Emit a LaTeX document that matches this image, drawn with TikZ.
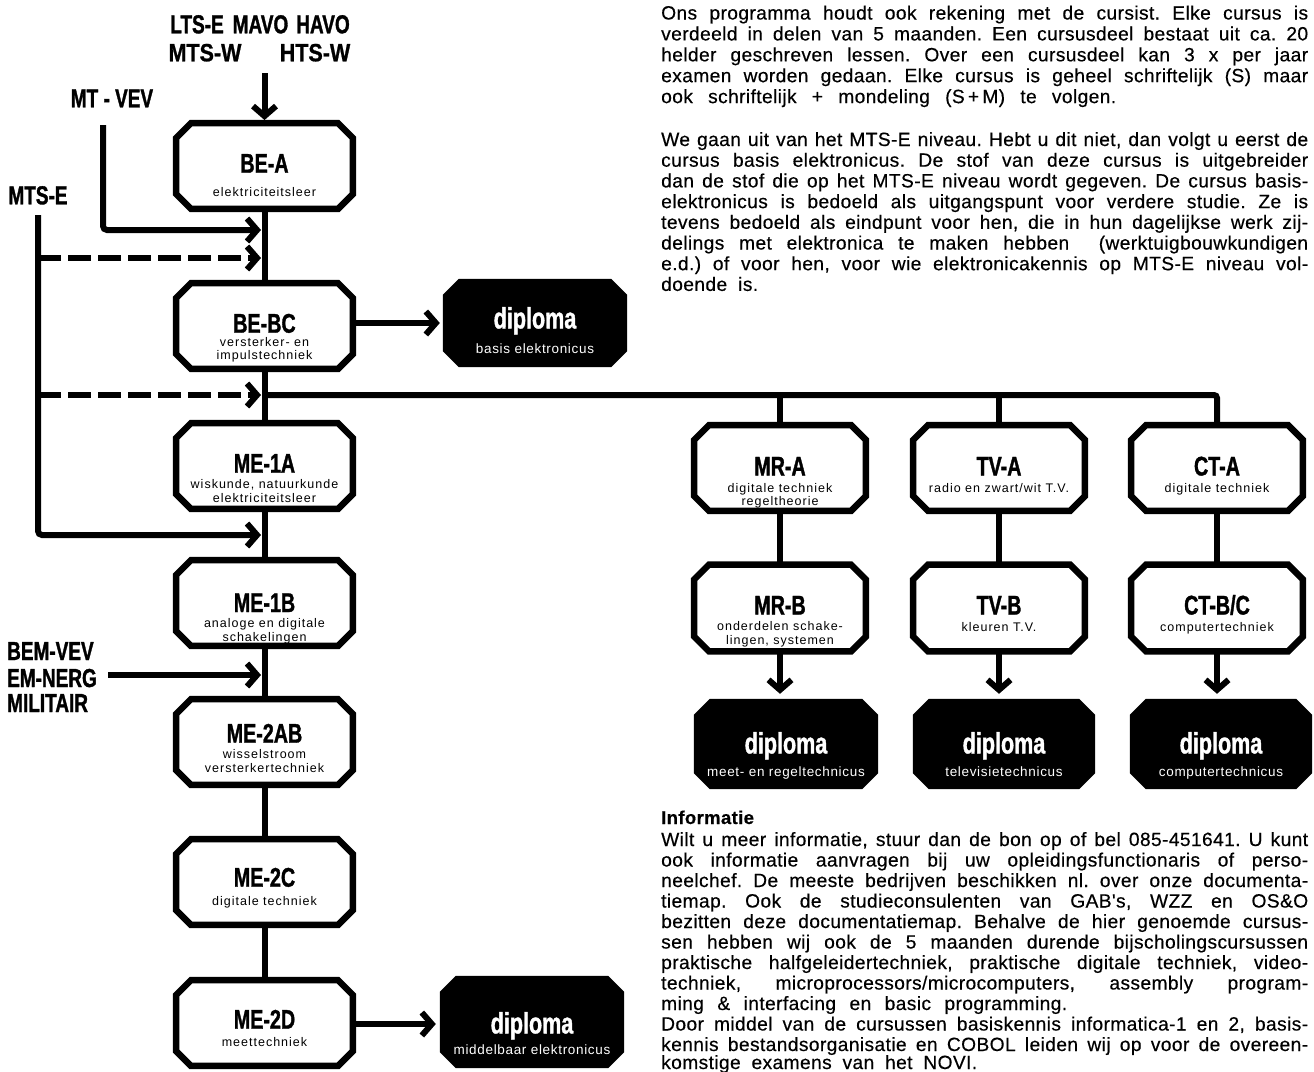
\documentclass[tikz,border=0pt]{standalone}
\usepackage{fontspec}
\setmainfont{Liberation Sans}
\newfontfamily\condfont{Liberation Sans}[FakeStretch=0.73,FakeBold=1.2]
\newfontfamily\condwide{Liberation Sans}[FakeStretch=0.86,FakeBold=0.8]
\newfontfamily\bodyfont{Liberation Sans}[LetterSpace=2,FakeBold=0.4]
\newfontfamily\subfont{Liberation Sans}[LetterSpace=8]
\newfontfamily\dsubfont{Liberation Sans}[LetterSpace=5]
\usetikzlibrary{arrows.meta}
\newcommand\jline[3]{\node[bodyt] (#1) at (661,#2) {\makebox[647pt][s]{#3}};}
\newcommand\lline[4]{\node[bodyt] (#1) at (661,#2) {\makebox[#3pt][s]{#4}};}
% chamfered outline drawn on the border of a named node
\newcommand\chdraw[3]{\path[#3] ([xshift=#2]#1.north west) -- ([xshift=-#2]#1.north east)
  -- ([yshift=-#2]#1.north east) -- ([yshift=#2]#1.south east) -- ([xshift=-#2]#1.south east)
  -- ([xshift=#2]#1.south west) -- ([yshift=#2]#1.south west) -- ([yshift=-#2]#1.north west) -- cycle;}
\frenchspacing
\begin{document}
\begin{tikzpicture}[x=1pt,y=-1pt,
  conn/.style={line width=6pt},
  arr/.style={conn,-{Straight Barb[length=10pt,width=23pt,sharp]}},
  dashconn/.style={arr,dash pattern=on 23pt off 7pt},
  boxn/.style={rectangle,draw=none,minimum width=176.5pt,minimum height=85.5pt,inner sep=0pt},
  rboxn/.style={boxn,minimum width=171.5pt},
  dipn/.style={rectangle,draw=none,minimum width=184pt,minimum height=90pt,inner sep=0pt},
  boxline/.style={draw=black,line width=6.5pt,fill=white,line join=miter},
  dipfill/.style={fill=black},
  ttl/.style={font=\condfont\bfseries\fontsize{27}{27}\selectfont,anchor=base,inner sep=0pt},
  sub/.style={font=\subfont\fontsize{12.5}{14}\selectfont,anchor=base,inner sep=0pt},
  dword/.style={font=\condfont\bfseries\fontsize{29.5}{30}\selectfont,text=white,anchor=base,inner sep=0pt},
  dsub/.style={font=\dsubfont\fontsize{13.5}{15}\selectfont,text=white,anchor=base,inner sep=0pt},
  lab/.style={font=\condfont\bfseries\fontsize{26}{26}\selectfont,anchor=base,inner sep=0pt},
  labw/.style={font=\condwide\bfseries\fontsize{25}{25}\selectfont,anchor=base,inner sep=0pt},
  bodyt/.style={font=\bodyfont\fontsize{19.2}{20}\selectfont,anchor=base west,inner sep=0pt},
  headt/.style={font=\bodyfont\bfseries\fontsize{18.5}{20}\selectfont,anchor=base west,inner sep=0pt}]
\useasboundingbox (0,0) rectangle (1314,1071);
\clip (0,0) rectangle (1314,1071);
\fill[white] (0,0) rectangle (1314,1071);

% ---------- left column boxes
\node[boxn] (bea)  at (264.5,166) {};
\node[boxn] (bebc) at (264.5,326) {};
\node[boxn] (me1a) at (264.5,466) {};
\node[boxn] (me1b) at (264.5,603) {};
\node[boxn] (me2ab) at (264.5,742) {};
\node[boxn] (me2c) at (264.5,882) {};
\node[boxn] (me2d) at (264.5,1023) {};
\chdraw{bea}{15pt}{boxline}
\chdraw{bebc}{15pt}{boxline}
\chdraw{me1a}{15pt}{boxline}
\chdraw{me1b}{15pt}{boxline}
\chdraw{me2ab}{15pt}{boxline}
\chdraw{me2c}{15pt}{boxline}
\chdraw{me2d}{15pt}{boxline}

\node[ttl] (bea-t) at (264.5,172.7) {BE-A};
\node[sub] (bea-s) at (264.5,196.5) {elektriciteitsleer};
\node[ttl] (bebc-t) at (264.5,332.7) {BE-BC};
\node[sub] (bebc-s1) at (264.5,346) {versterker- en};
\node[sub] (bebc-s2) at (264.5,359) {impulstechniek};
\node[ttl] (me1a-t) at (264.5,472.7) {ME-1A};
\node[sub] (me1a-s1) at (264.5,488) {wiskunde, natuurkunde};
\node[sub] (me1a-s2) at (264.5,502) {elektriciteitsleer};
\node[ttl] (me1b-t) at (264.5,612) {ME-1B};
\node[sub] (me1b-s1) at (264.5,627) {analoge en digitale};
\node[sub] (me1b-s2) at (264.5,641.5) {schakelingen};
\node[ttl] (me2ab-t) at (264.5,742.7) {ME-2AB};
\node[sub] (me2ab-s1) at (264.5,758) {wisselstroom};
\node[sub] (me2ab-s2) at (264.5,772.5) {versterkertechniek};
\node[ttl] (me2c-t) at (264.5,886.7) {ME-2C};
\node[sub] (me2c-s) at (264.5,905.5) {digitale techniek};
\node[ttl] (me2d-t) at (264.5,1028.7) {ME-2D};
\node[sub] (me2d-s) at (264.5,1046.5) {meettechniek};

% ---------- left diplomas
\node[dipn,minimum height=88pt] (dipb) at (535,323) {};
\node[dipn,minimum height=92pt] (dipm) at (532,1022) {};
\chdraw{dipb}{16pt}{dipfill}
\chdraw{dipm}{16pt}{dipfill}
\node[dword] (dipb-t) at (535,328.4) {diploma};
\node[dsub] (dipb-s) at (535,353.8) {basis elektronicus};
\node[dword] (dipm-t) at (532,1033.4) {diploma};
\node[dsub] (dipm-s) at (532,1054.8) {middelbaar elektronicus};

% ---------- right boxes
\node[rboxn] (mra) at (780,468) {};
\node[rboxn] (tva) at (999,468) {};
\node[rboxn] (cta) at (1217,468) {};
\node[rboxn,minimum height=86.5pt] (mrb) at (780,608) {};
\node[rboxn,minimum height=86.5pt] (tvb) at (999,608) {};
\node[rboxn,minimum height=86.5pt] (ctb) at (1217,608) {};
\chdraw{mra}{15pt}{boxline}
\chdraw{tva}{15pt}{boxline}
\chdraw{cta}{15pt}{boxline}
\chdraw{mrb}{15pt}{boxline}
\chdraw{tvb}{15pt}{boxline}
\chdraw{ctb}{15pt}{boxline}
\node[ttl] (mra-t) at (780,475.5) {MR-A};
\node[sub] (mra-s1) at (780,492.5) {digitale techniek};
\node[sub] (mra-s2) at (780,505.5) {regeltheorie};
\node[ttl] (tva-t) at (999,475.5) {TV-A};
\node[sub] (tva-s) at (999,492.5) {radio en zwart/wit T.V.};
\node[ttl] (cta-t) at (1217,475.5) {CT-A};
\node[sub] (cta-s) at (1217,492.5) {digitale techniek};
\node[ttl] (mrb-t) at (780,614.5) {MR-B};
\node[sub] (mrb-s1) at (780,630.5) {onderdelen schake-};
\node[sub] (mrb-s2) at (780,644) {lingen, systemen};
\node[ttl] (tvb-t) at (999,614.5) {TV-B};
\node[sub] (tvb-s) at (999,631) {kleuren T.V.};
\node[ttl] (ctb-t) at (1217,614.5) {CT-B/C};
\node[sub] (ctb-s) at (1217,631) {computertechniek};

\node[dipn,minimum width=184pt] (dip1) at (786,744) {};
\node[dipn,minimum width=182pt] (dip2) at (1004,744) {};
\node[dipn,minimum width=182pt] (dip3) at (1221,744) {};
\chdraw{dip1}{16pt}{dipfill}
\chdraw{dip2}{16pt}{dipfill}
\chdraw{dip3}{16pt}{dipfill}
\node[dword] (dip1-t) at (786,753.4) {diploma};
\node[dsub] (dip1-s) at (786,776.8) {meet- en regeltechnicus};
\node[dword] (dip2-t) at (1004,753.4) {diploma};
\node[dsub] (dip2-s) at (1004,776.8) {televisietechnicus};
\node[dword] (dip3-t) at (1221,753.4) {diploma};
\node[dsub] (dip3-s) at (1221,776.8) {computertechnicus};

% ---------- entry labels
\node[lab] (lts) at (260,33.3) {LTS-E\hspace{9pt}MAVO\hspace{8pt}HAVO};
\node[labw] (mtsw) at (205,61.3) {MTS-W};
\node[labw] (htsw) at (315,61.3) {HTS-W};
\node[lab] (mtvev) at (112,107.3) {MT - VEV};
\node[lab] (mtse) at (38,204.3) {MTS-E};
\node[lab,anchor=base west] (bem) at (7,660) {BEM-VEV};
\node[lab,anchor=base west] (emn) at (7,687) {EM-NERG};
\node[lab,anchor=base west] (mil) at (7,712) {MILITAIR};

% ---------- connector end points
\coordinate (topin) at (264.5,73);
\coordinate (mvs) at (103,125);
\coordinate (mve) at (261,230);
\coordinate (d1s) at (38,258);
\coordinate (d1e) at (261,258);
\coordinate (mtss) at (38,215);
\coordinate (mtsee) at (261,535);
\coordinate (d2s) at (38,395);
\coordinate (d2e) at (261,395);
\coordinate (bems) at (108,675);
\coordinate (beme) at (261,675);
\coordinate (bus) at (264.5,395);

% ---------- connectors
\draw[arr,shorten >=3pt] (topin) -- (bea.north);
\draw[conn] (bea) -- (bebc);
\draw[conn] (bebc) -- (me1a);
\draw[conn] (me1a) -- (me1b);
\draw[conn] (me1b) -- (me2ab);
\draw[conn] (me2ab) -- (me2c);
\draw[conn] (me2c) -- (me2d);
\draw[arr,shorten >=3pt] (dipb.west -| bebc.east) -- (dipb.west);
\draw[arr,shorten >=4pt] (me2d.east |- 0,1024) coordinate (m2dx) -- (m2dx -| dipm.west);
\draw[arr,rounded corners=4pt] (mvs) |- (mve);
\draw[arr,rounded corners=4pt] (mtss) |- (mtsee);
\draw[dashconn] (d1s) -- (d1e);
\draw[dashconn] (d2s) -- (d2e);
\draw[arr] (bems) -- (beme);
\draw[conn,rounded corners=3pt] (bus) -| (cta.north);
\draw[conn] (bus -| mra.north) -- (mra.north);
\draw[conn] (bus -| tva.north) -- (tva.north);
\draw[conn] (mra) -- (mrb);
\draw[conn] (tva) -- (tvb);
\draw[conn] (cta) -- (ctb);
\draw[arr,shorten >=5pt] (mrb.south) -- (mrb.south |- dip1.north);
\draw[arr,shorten >=5pt] (tvb.south) -- (tvb.south |- dip2.north);
\draw[arr,shorten >=5pt] (ctb.south) -- (ctb.south |- dip3.north);

% ---------- text paragraphs
\jline{p1a}{19.5}{Ons programma houdt ook rekening met de cursist. Elke cursus is}
\jline{p1b}{40.4}{verdeeld in delen van 5 maanden. Een cursusdeel bestaat uit ca. 20}
\jline{p1c}{61.3}{helder geschreven lessen. Over een cursusdeel kan 3 x per jaar}
\jline{p1d}{82.2}{examen worden gedaan. Elke cursus is geheel schriftelijk (S) maar}
\lline{p1e}{103.1}{455}{ook schriftelijk + mondeling (S\,+\,M) te volgen.}

\jline{p2a}{146}{We gaan uit van het MTS-E niveau. Hebt u dit niet, dan volgt u eerst de}
\jline{p2b}{166.7}{cursus basis elektronicus. De stof van deze cursus is uitgebreider}
\jline{p2c}{187.4}{dan de stof die op het MTS-E niveau wordt gegeven. De cursus basis-}
\jline{p2d}{208.1}{elektronicus is bedoeld als uitgangspunt voor verdere studie. Ze is}
\jline{p2e}{228.8}{tevens bedoeld als eindpunt voor hen, die in hun dagelijkse werk zij-}
\jline{p2f}{249.5}{delings met elektronica te maken hebben \ (werktuigbouwkundigen}
\jline{p2g}{270.2}{e.d.) of voor hen, voor wie elektronicakennis op MTS-E niveau vol-}
\lline{p2h}{290.9}{97}{doende is.}

\node[headt] (info) at (661,824) {Informatie};
\jline{p3a}{846}{Wilt u meer informatie, stuur dan de bon op of bel 085-451641. U kunt}
\jline{p3b}{866.5}{ook informatie aanvragen bij uw opleidingsfunctionaris of perso-}
\jline{p3c}{887}{neelchef. De meeste bedrijven beschikken nl. over onze documenta-}
\jline{p3d}{907.5}{tiemap. Ook de studieconsulenten van GAB's, WZZ en OS\&O}
\jline{p3e}{928}{bezitten deze documentatiemap. Behalve de hier genoemde cursus-}
\jline{p3f}{948.5}{sen hebben wij ook de 5 maanden durende bijscholingscursussen}
\jline{p3g}{969}{praktische halfgeleidertechniek, praktische digitale techniek, video-}
\jline{p3h}{989.5}{techniek, microprocessors/microcomputers, assembly program-}
\lline{p3i}{1010}{406}{ming \& interfacing en basic programming.}
\jline{p3j}{1030.5}{Door middel van de cursussen basiskennis informatica-1 en 2, basis-}
\jline{p3k}{1051}{kennis bestandsorganisatie en COBOL leiden wij op voor de overeen-}
\lline{p3l}{1069}{316}{komstige examens van het NOVI.}
\end{tikzpicture}
\end{document}
